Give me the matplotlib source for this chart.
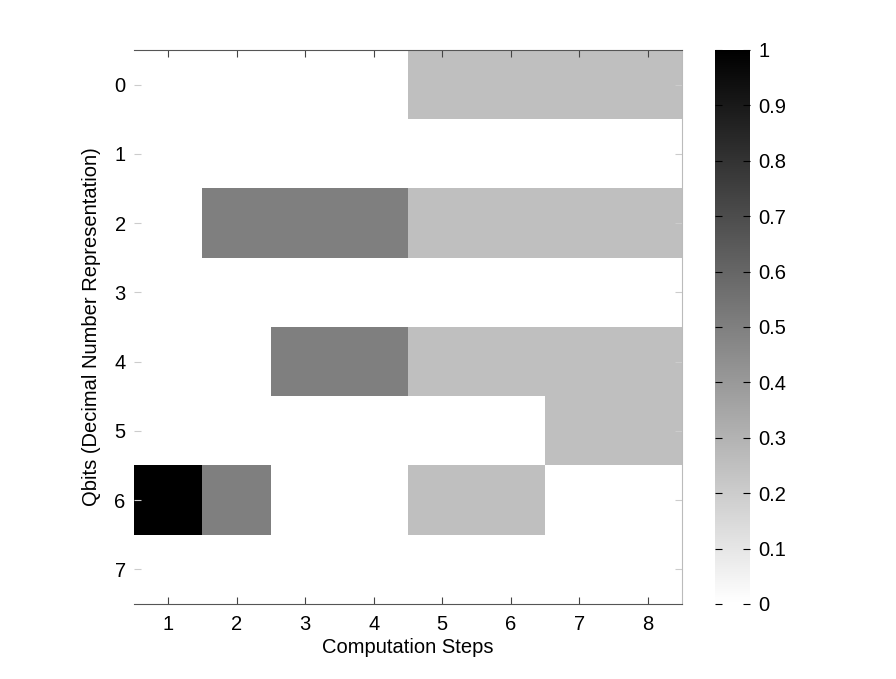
import matplotlib
matplotlib.use('Agg')
import matplotlib.pyplot as plt
import numpy as np

plt.rcParams['font.family'] = ['Liberation Sans', 'DejaVu Sans']

steps = [1, 2, 3, 4, 5, 6, 7, 8]
qbits = [0, 1, 2, 3, 4, 5, 6, 7]

# probability per qbit state (rows) and computation step (columns)
row0 = [0, 0, 0, 0, 0.25, 0.25, 0.25, 0.25]
row1 = [0, 0, 0, 0, 0, 0, 0, 0]
row2 = [0, 0.5, 0.5, 0.5, 0.25, 0.25, 0.25, 0.25]
row3 = [0, 0, 0, 0, 0, 0, 0, 0]
row4 = [0, 0, 0.5, 0.5, 0.25, 0.25, 0.25, 0.25]
row5 = [0, 0, 0, 0, 0, 0, 0.25, 0.25]
row6 = [1, 0.5, 0, 0, 0.25, 0.25, 0, 0]
row7 = [0, 0, 0, 0, 0, 0, 0, 0]
prob = np.array([row0, row1, row2, row3, row4, row5, row6, row7])

cbar_ticks = [0, 0.1, 0.2, 0.3, 0.4, 0.5, 0.6, 0.7, 0.8, 0.9, 1]

fig = plt.figure(figsize=(8.96, 6.79), dpi=100)
ax = fig.add_axes([0.1496, 0.1105, 0.6116, 0.8159])
cax = fig.add_axes([0.798, 0.1105, 0.039, 0.8159])

im = ax.imshow(prob, cmap='gray_r', vmin=0, vmax=1, aspect='auto',
               extent=[0.5, 8.5, 7.5, -0.5], interpolation='nearest')

ax.set_xticks(steps)
ax.set_yticks(qbits)
ax.tick_params(direction='in', length=5, width=0.8, color='#444444',
               labelsize=14.5, top=True, right=True)
ax.tick_params(axis='x', pad=8)
ax.tick_params(axis='y', pad=6, color='#cccccc')
ax.spines['left'].set_visible(False)
ax.spines['top'].set_color('#555555')
ax.spines['bottom'].set_color('#555555')
ax.spines['right'].set_color('#bbbbbb')
ax.set_xlabel('Computation Steps', fontsize=14.5, labelpad=3)
ax.set_ylabel('Qbits (Decimal Number Representation)', fontsize=14.5, labelpad=10)

cb = fig.colorbar(im, cax=cax, ticks=cbar_ticks)
cb.ax.set_yticklabels([f'{t:g}' for t in cbar_ticks])
cb.ax.tick_params(direction='in', length=5, width=0.8, labelsize=14.5,
                  left=True, right=True, pad=6)
cb.outline.set_visible(False)

fig.savefig('out.png', dpi=100)
